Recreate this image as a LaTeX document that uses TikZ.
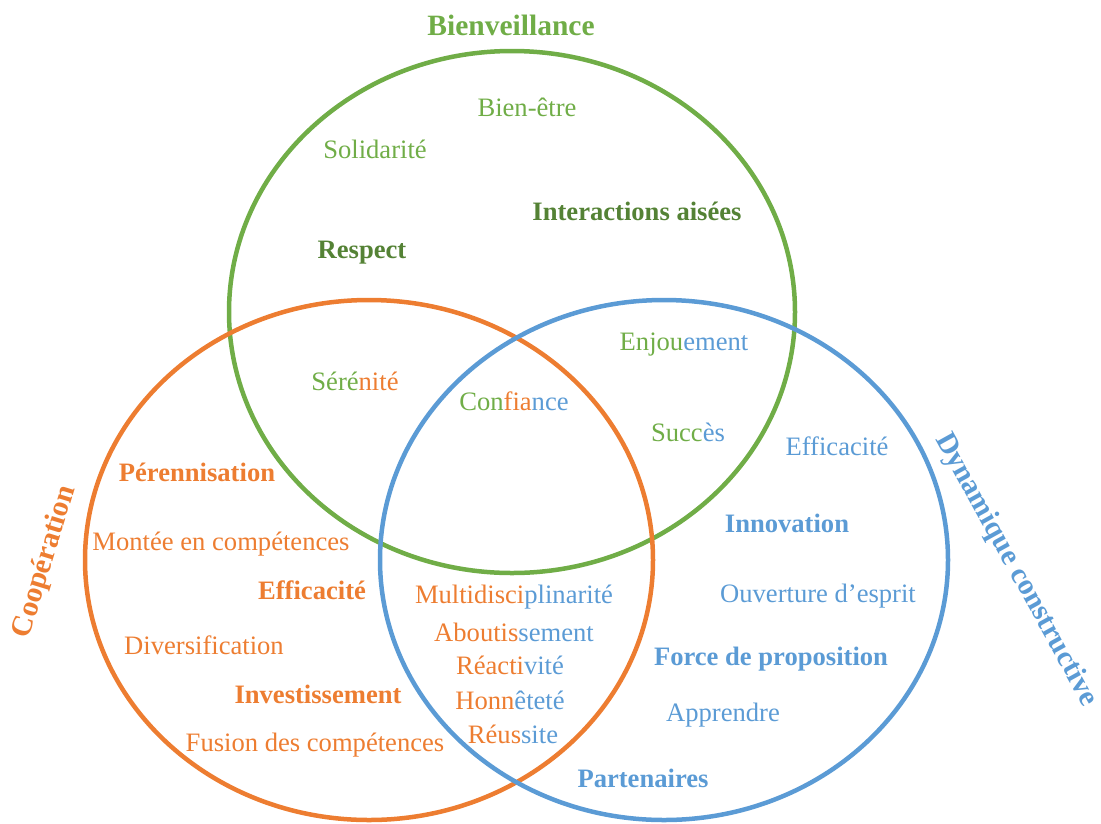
\documentclass[tikz,border=0pt]{standalone}
\usepackage{fontspec}
\setmainfont{Liberation Serif}
\usepackage{tikz}

\definecolor{bienv}{HTML}{70AD47}
\definecolor{bienvfonce}{HTML}{548235}
\definecolor{coop}{HTML}{ED7D31}
\definecolor{dyna}{HTML}{5B9BD5}

\begin{document}
\begin{tikzpicture}[x=1pt,y=-1pt,
    mot/.style={font=\fontsize{26.6}{30}\selectfont},
    motfort/.style={font=\fontsize{26.6}{30}\selectfont\bfseries},
    titre/.style={font=\fontsize{29.5}{34}\selectfont\bfseries},
    cercle/.style={line width=4.5pt}]
      \useasboundingbox (0,0) rectangle (1101,823);

      % the three circles
      \draw[cercle, bienv] (512,312) ellipse [x radius=283, y radius=261];
      \draw[cercle, coop] (369,560) ellipse [x radius=284, y radius=260];
      \draw[cercle, dyna] (664,560) ellipse [x radius=284, y radius=260];

      %write the titles
      \node[titre, bienv] (tbienv) at (511,25) {Bienveillance};
      \node[titre, coop, rotate=73] (tcoop) at (45,562) {Coopération};
      \node[titre, dyna, rotate=-61] (tdyna) at (1016,570) {Dynamique constructive};

      % words in Bienveillance only
      \node[mot, bienv] (bienetre) at (527,107) {Bien-être};
      \node[mot, bienv] (solid) at (375,149) {Solidarité};
      \node[motfort, bienvfonce] (interac) at (637,211) {Interactions aisées};
      \node[motfort, bienvfonce] (respect) at (362,253) {Respect};

      % words shared by two or three circles
      \node[mot] (serenite) at (355,381) {{\color{bienv}Séré}{\color{coop}nité}};
      \node[mot] (confiance) at (514,401) {{\color{bienv}Con}{\color{coop}fia}{\color{dyna}nce}};
      \node[mot] (enjou) at (684,345) {{\color{bienv}Enjou}{\color{dyna}ement}};
      \node[mot] (succes) at (688,432) {{\color{bienv}Succ}{\color{dyna}ès}};

      % words in Dynamique constructive only
      \node[mot, dyna] (effdyna) at (837,446) {Efficacité};
      \node[motfort, dyna] (innov) at (787,523) {Innovation};
      \node[mot, dyna] (ouvert) at (818,596) {Ouverture d’esprit};
      \node[motfort, dyna] (force) at (771,659) {Force de proposition};
      \node[mot, dyna] (apprend) at (723,715) {Apprendre};
      \node[motfort, dyna] (parten) at (643,778) {Partenaires};

      % words in Coopération only
      \node[motfort, coop] (perenn) at (197,472) {Pérennisation};
      \node[mot, coop] (montee) at (221,544) {Montée en compétences};
      \node[motfort, coop] (effcoop) at (312,590) {Efficacité};
      \node[mot, coop] (divers) at (204,645) {Diversification};
      \node[motfort, coop] (invest) at (318,694) {Investissement};
      \node[mot, coop] (fusion) at (315,745) {Fusion des compétences};

      % words between Coopération and Dynamique constructive
      \node[mot] (multi) at (514,597) {{\color{coop}Multidisci}{\color{dyna}plinarité}};
      \node[mot] (abouti) at (514,632) {{\color{coop}Aboutis}{\color{dyna}sement}};
      \node[mot] (reactiv) at (510,665) {{\color{coop}Réacti}{\color{dyna}vité}};
      \node[mot] (honnet) at (510,700) {{\color{coop}Honn}{\color{dyna}êteté}};
      \node[mot] (reussite) at (513,734) {{\color{coop}Réus}{\color{dyna}site}};
    \end{tikzpicture}
\end{document}
